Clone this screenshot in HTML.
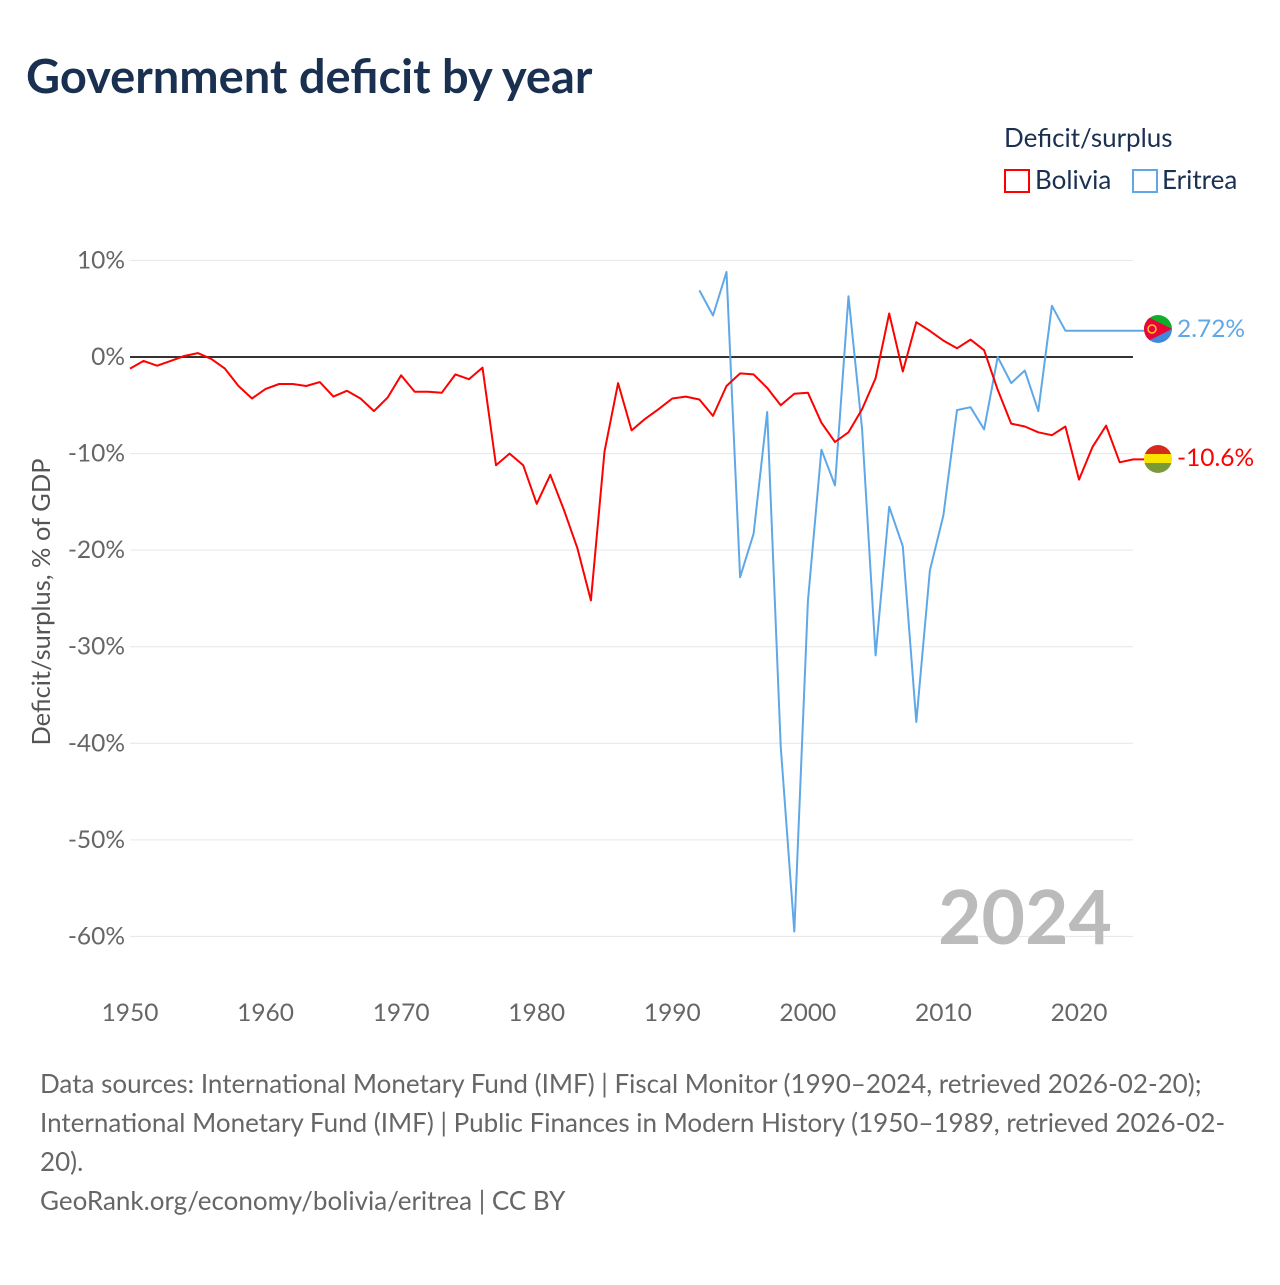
<!DOCTYPE html>
<html><head><meta charset="utf-8"><style>
body{margin:0;background:#fff;font-family:"Liberation Sans",sans-serif;}
</style></head><body>
<svg width="1280" height="1280" viewBox="0 0 1280 1280" xmlns="http://www.w3.org/2000/svg" font-family="Lato,'Liberation Sans',sans-serif">
<text x="26" y="93" font-size="47" font-weight="bold" fill="#1a3050">Government deficit by year</text>
<text x="1004" y="147" font-size="26" fill="#1a3050">Deficit/surplus</text>
<g><rect x="1005" y="170" width="24" height="22" fill="none" stroke="#f00" stroke-width="2"/><text x="1035" y="189" font-size="26" fill="#1a3050">Bolivia</text></g>
<g><rect x="1133" y="170" width="24" height="22" fill="none" stroke="#5fa8e8" stroke-width="2"/><text x="1162" y="189" font-size="26" fill="#1a3050">Eritrea</text></g>
<g id="grid"></g>
<text transform="translate(50,602) rotate(-90)" text-anchor="middle" font-size="25.5" fill="#555">Deficit/surplus, % of GDP</text>
<text x="1112" y="944" text-anchor="end" font-size="75" font-weight="bold" fill="#bbb">2024</text>
<g id="series"></g>
<g><clipPath id="ce"><circle cx="1158" cy="329" r="14"/></clipPath><g clip-path="url(#ce)"><rect x="1144" y="315" width="28" height="14" fill="#12ad2b"/><rect x="1144" y="329" width="28" height="14" fill="#4189dd"/><path d="M1144,315 L1144,343 L1172,329 Z" fill="#ea0437"/><circle cx="1152" cy="329" r="4" fill="none" stroke="#ffc726" stroke-width="1.5"/></g></g>
<text x="1177" y="337" font-size="24.5" fill="#5fa8e8">2.72%</text>
<g><clipPath id="cb"><circle cx="1158" cy="459" r="14"/></clipPath><g clip-path="url(#cb)"><rect x="1144" y="445" width="28" height="10" fill="#d52b1e"/><rect x="1144" y="454" width="28" height="10" fill="#f9e300"/><rect x="1144" y="463" width="28" height="10" fill="#7a9a3a"/></g></g>
<text x="1177" y="466" font-size="24.5" fill="#f00">-10.6%</text>
<g font-size="26" fill="#666">
<text x="40" y="1093">Data sources: International Monetary Fund (IMF) | Fiscal Monitor (1990–2024, retrieved 2026-02-20);</text>
<text x="40" y="1132">International Monetary Fund (IMF) | Public Finances in Modern History (1950–1989, retrieved 2026-02-</text>
<text x="40" y="1171">20).</text>
<text x="40" y="1210">GeoRank.org/economy/bolivia/eritrea | CC BY</text>
</g>
</svg>
<script>
const yTicks=[10,0,-10,-20,-30,-40,-50,-60];
const xTicks=[1950,1960,1970,1980,1990,2000,2010,2020];
const boliviaYears=[];for(let y=1950;y<=2024;y++)boliviaYears.push(y);
const boliviaValues=[-1.2,-0.4,-0.9,-0.4,0.1,0.4,-0.2,-1.2,-3.0,-4.3,-3.3,-2.8,-2.8,-3.0,-2.6,-4.1,-3.5,-4.3,-5.6,-4.2,-1.9,-3.6,-3.6,-3.7,-1.8,-2.3,-1.1,-11.2,-10.0,-11.2,-15.2,-12.2,-15.8,-19.8,-25.2,-9.8,-2.7,-7.6,-6.4,-5.4,-4.3,-4.1,-4.4,-6.1,-3.0,-1.7,-1.8,-3.2,-5.0,-3.8,-3.7,-6.8,-8.8,-7.8,-5.4,-2.2,4.5,-1.5,3.6,2.7,1.7,0.9,1.8,0.7,-3.4,-6.9,-7.2,-7.8,-8.1,-7.2,-12.7,-9.3,-7.1,-10.9,-10.6];
const eritreaYears=[];for(let y=1992;y<=2024;y++)eritreaYears.push(y);
const eritreaValues=[6.9,4.3,8.8,-22.8,-18.3,-5.7,-40.3,-59.5,-25.3,-9.6,-13.3,6.3,-7.5,-30.9,-15.5,-19.6,-37.8,-22.1,-16.4,-5.5,-5.2,-7.5,0.0,-2.7,-1.4,-5.6,5.3,2.72,2.72,2.72,2.72,2.72,2.72];
const NS='http://www.w3.org/2000/svg';
const X=y=>130+(y-1950)*(949/70);
const Y=v=>357-v*9.657;
const grid=document.getElementById('grid');
function mk(t,a,p){const e=document.createElementNS(NS,t);for(const k in a)e.setAttribute(k,a[k]);p.appendChild(e);return e;}
yTicks.forEach(v=>{
 const l=mk('line',{x1:130,x2:1133,y1:Y(v),y2:Y(v),stroke:v===0?'#333':'#e6e6e6','stroke-width':v===0?2:1},grid);
 
 
 const t=mk('text',{x:125,y:Y(v)+8,'text-anchor':'end','font-size':24.5,fill:'#666'},grid);
 t.textContent=v+'%';
 
 
});
xTicks.forEach(v=>{
 const t=mk('text',{x:X(v),y:1021,'text-anchor':'middle','font-size':24.5,fill:'#666'},grid);
 t.textContent=v;
 
 
});
const s=document.getElementById('series');
function line(ys,vs,c,name,endX){
 let d=ys.map((y,i)=>(i?'L':'M')+X(y).toFixed(1)+','+Y(vs[i]).toFixed(1)).join('');
 d+='L'+endX+','+Y(vs[vs.length-1]).toFixed(1);
 const p=mk('path',{d:d,fill:'none',stroke:c,'stroke-width':2,'stroke-linejoin':'round'},s);
 
 
}
line(eritreaYears,eritreaValues,'#5fa8e8','eritrea-line',1144);
line(boliviaYears,boliviaValues,'#f00','bolivia-line',1144);
</script>
</body></html>
